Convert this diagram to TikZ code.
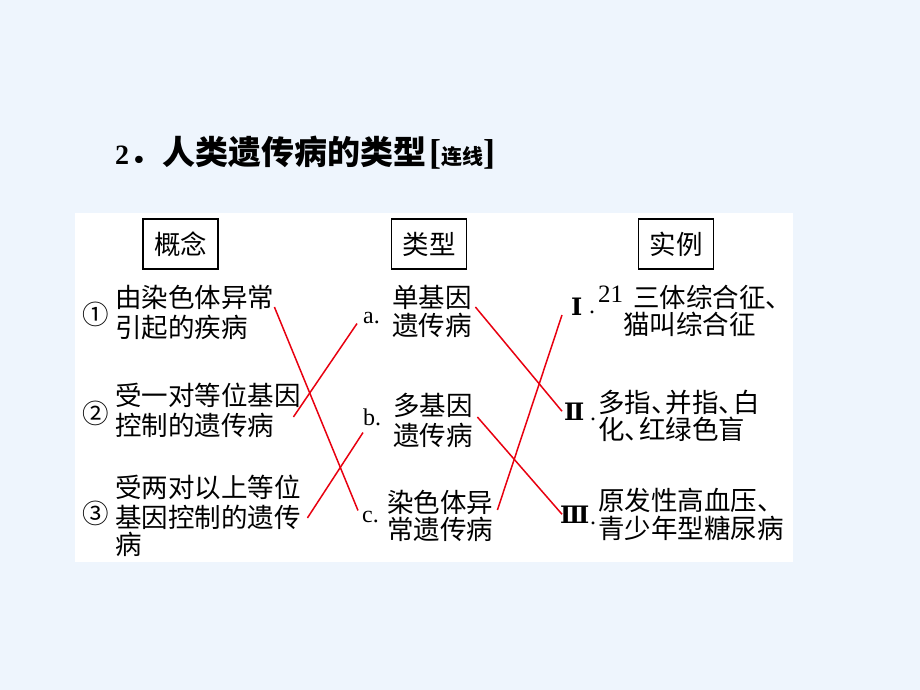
\documentclass[tikz,border=0pt]{standalone}
\usepackage{fontspec}
\setmainfont{Liberation Serif}
\newfontfamily\cjk{Noto Sans CJK SC}
\newfontfamily\numfont{DejaVu Serif}
\usetikzlibrary{positioning}
\tikzset{txt/.style = {anchor=base west, inner sep=0, font=\cjk\fontsize{26.5}{26.5}\selectfont}}
\tikzset{tag/.style = {anchor=base west, inner sep=0, font=\fontsize{24}{24}\selectfont}}
\tikzset{roman/.style = {anchor=base west, inner sep=0, font=\numfont\bfseries\fontsize{24}{24}\selectfont}}
\tikzset{head/.style = {draw, line width=1.2pt, minimum width=75pt, minimum height=50pt, inner sep=0,
                        font=\cjk\fontsize{26.5}{26.5}\selectfont}}
\tikzset{link/.style = {mred, line width=1.5pt}}
\definecolor{mbg}{RGB}{238,245,253}
\definecolor{mred}{RGB}{232,0,16}

\begin{document}
\begin{tikzpicture}[x=1pt, y=-1pt]
      \useasboundingbox [fill=mbg] (0, 0) rectangle (920, 690);
      \fill [white] (75, 213) rectangle (793, 562);

      \node [anchor=base west, inner sep=0] (title) at (115, 164)
        {{\bfseries\fontsize{28}{28}\selectfont 2}{\cjk\bfseries\fontsize{33}{33}\selectfont ．人类遗传病的类型}\kern3pt{\bfseries\fontsize{36}{36}\selectfont [}{\cjk\bfseries\fontsize{21}{21}\selectfont 连线}{\bfseries\fontsize{36}{36}\selectfont ]}};

      \node [head] (h1) at (180.5, 244) {概念};
      \node [head] (h2) at (429, 244) {类型};
      \node [head] (h3) at (676, 244) {实例};

      \node [txt] (c1) at (82, 324) {①};
      \node [txt] (n1a) at (115, 307) {由染色体异常};
      \node [txt] (n1b) at (115, 337) {引起的疾病};
      \node [txt] (c2) at (82, 423) {②};
      \node [txt] (n2a) at (115, 405) {受一对等位基因};
      \node [txt] (n2b) at (115, 435) {控制的遗传病};
      \node [txt] (c3) at (82, 523) {③};
      \node [txt] (n3a) at (115, 497) {受两对以上等位};
      \node [txt] (n3b) at (115, 527) {基因控制的遗传};
      \node [txt] (n3c) at (115, 554) {病};

      \node [tag] (la) at (363, 323) {a.};
      \node [txt] (m1a) at (392, 307) {单基因};
      \node [txt] (m1b) at (392, 335) {遗传病};
      \node [tag] (lb) at (363, 425) {b.};
      \node [txt] (m2a) at (393, 415) {多基因};
      \node [txt] (m2b) at (393, 445) {遗传病};
      \node [tag] (lc) at (362, 522) {c.};
      \node [txt] (m3a) at (387, 512) {染色体异};
      \node [txt] (m3b) at (387, 539) {常遗传病};

      \node [roman] (r1) at (571, 315) {Ⅰ};
      \node [tag, anchor=base] (d1) at (592, 313) {.};
      \node [txt] (e1a) at (598, 307) {{\rmfamily\fontsize{25}{25}\selectfont\raisebox{5pt}{21}}\hspace{10pt}三体综合征、};
      \node [txt] (e1b) at (623, 334) {猫叫综合征};
      \node [roman] (r2) at (564, 420) {Ⅱ};
      \node [tag, anchor=base] (d2) at (593, 420) {.};
      \node [txt] (e2a) at (598, 412) {多指、\kern-12pt 并指、\kern-12pt 白};
      \node [txt] (e2b) at (598, 439) {化、\kern-12pt 红绿色盲};
      \node [roman] (r3) at (560, 523) {Ⅲ};
      \node [tag, anchor=base] (d3) at (593, 524) {.};
      \node [txt] (e3a) at (598, 510) {原发性高血压、};
      \node [txt] (e3b) at (598, 538) {青少年型糖尿病};

      \draw [link] (n1a.base east) -- ([xshift=-4pt]lc.north west);
      \draw [link] ([xshift=-7.5pt, yshift=-12pt]n2a.base east) -- ([xshift=-6pt]la.south west);
      \draw [link] ([xshift=6.5pt, yshift=9pt]n3b.base east) -- ([yshift=-7pt]lb.south west);
      \draw [link] ([xshift=3.5pt]m1a.base east) -- ([xshift=-2pt]r2.west);
      \draw [link] ([xshift=4.5pt, yshift=-2pt]m2a.base east) -- ([xshift=2pt]r3.west);
      \draw [link] ([xshift=4pt, yshift=2pt]m3a.base east) -- ([xshift=-9pt]r1.base west);
    \end{tikzpicture}
\end{document}
